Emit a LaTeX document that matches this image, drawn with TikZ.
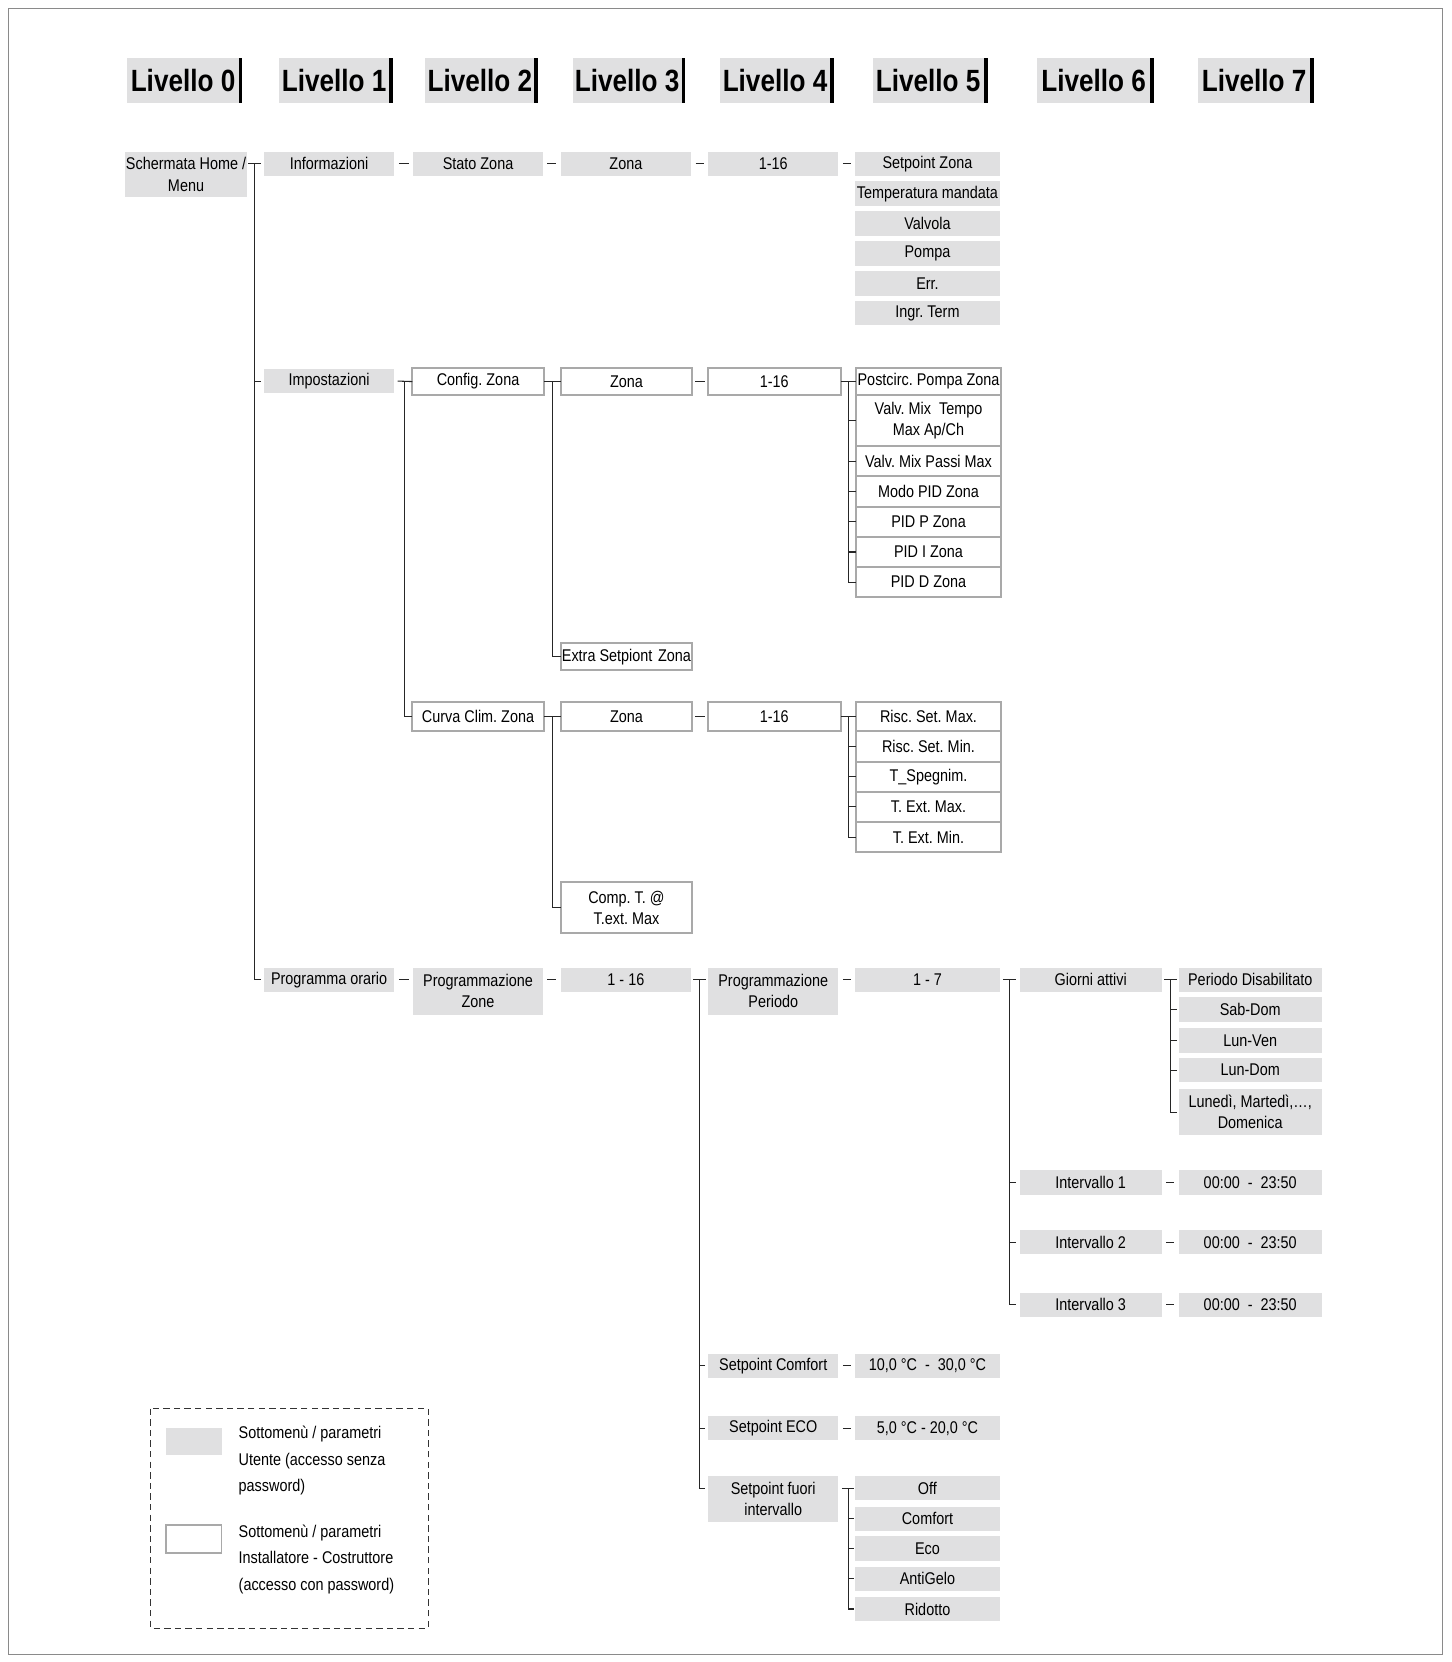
\documentclass[tikz,border=0pt]{standalone}
\usepackage{fontspec}
\setmainfont{Liberation Sans}[FakeStretch=0.85]
\usetikzlibrary{positioning,calc}

\definecolor{usergray}{HTML}{E0E0E1}
\definecolor{instgray}{HTML}{A9A9A9}
\definecolor{framegray}{HTML}{8A8A8A}

\newcommand\boxfont{\fontsize{16}{20}\selectfont}
\newcommand\headfont{\bfseries\fontsize{29}{34}\selectfont}
\newcommand\keyfont{\fontsize{16}{25}\selectfont}

\tikzset{
  user/.style={fill=usergray, inner sep=0pt, minimum height=23pt, align=center, font=\boxfont},
  inst/.style={draw=instgray, line width=1.8pt, fill=white, inner sep=0pt, outer sep=0pt,
    minimum height=26pt, align=center, font=\boxfont},
  head/.style={fill=usergray, inner sep=0pt, minimum height=42pt, font=\headfont},
  link/.style={line width=1pt, draw=black!85},
}

\begin{document}
\frenchspacing
\begin{tikzpicture}[x=1pt,y=-1pt]
  \useasboundingbox (0,0) rectangle (1369,1568);
  \draw[framegray, line width=1.4pt] (8,8) rectangle (1361,1561);

  % intestazioni livelli
  \foreach \n/\xl/\w in {0/120/105, 1/263/104, 2/401/103, 3/540/103, 4/679/104, 5/823/105, 6/978/107, 7/1130/106}{
    \node[head, minimum width=\w, anchor=west] (lv\n) at (\xl,76) {Livello \n};
    \draw[line width=3.5pt] ([xshift=1.5pt]lv\n.north east) -- ([xshift=1.5pt]lv\n.south east);
  }

  % livello 0 e 1
  \node[user, minimum width=115, minimum height=43] (home) at (175.5,164.5) {Schermata Home /\\Menu};
  \node[user, minimum width=123] (info) at (310.5,154.5) {Informazioni};
  \node[user, minimum width=123] (impo) at (310.5,359.5) {Impostazioni};
  \node[user, minimum width=123] (prog) at (310.5,924.5) {Programma orario};

  \coordinate (thome) at ($(home.east |- info)+(7,0)$);
  \draw[link] ($(home.east |- info)+(1,0)$) -- ($(info.west)+(-3,0)$);
  \draw[link] (thome) |- ($(prog.west)+(-3,0)$);
  \draw[link] (thome |- impo) -- ($(impo.west)+(-3,0)$);

  % informazioni
  \node[user, minimum width=122] (stato) at (451,154.5) {Stato Zona};
  \node[user, minimum width=123] (izona) at (590.5,154.5) {Zona};
  \node[user, minimum width=123] (inum) at (729.5,154.5) {1-16};
  \foreach \t [count=\k] in {Setpoint Zona, Temperatura mandata, Valvola, Pompa, Err., Ingr. Term}
    \node[user, minimum width=136] (inf\k) at (875,{154.5+28.2*(\k-1)}) {\t};
  \draw[link] ($(info.east)+(4,0)$) -- ($(stato.west)+(-4,0)$);
  \draw[link] ($(stato.east)+(4,0)$) -- ($(izona.west)+(-4,0)$);
  \draw[link] ($(izona.east)+(4,0)$) -- ($(inum.west)+(-4,0)$);
  \draw[link] ($(inum.east)+(4,0)$) -- ($(inf1.west)+(-4,0)$);

  % impostazioni - config. zona
  \node[inst, minimum width=124] (cfg) at (451,360) {Config. Zona};
  \node[inst, minimum width=124] (czona) at (591,360) {Zona};
  \node[inst, minimum width=125] (cnum) at (730.5,360) {1-16};
  \node[inst, minimum width=136, anchor=north] (post) at (876,347) {Postcirc. Pompa Zona};
  \node[inst, minimum width=136, minimum height=48, below=0pt of post] (tempo) {Valv. Mix~ Tempo\\Max Ap/Ch};
  \node[inst, minimum width=136, minimum height=28.5, below=0pt of tempo] (passi) {Valv. Mix Passi Max};
  \node[inst, minimum width=136, minimum height=28.5, below=0pt of passi] (modo) {Modo PID Zona};
  \node[inst, minimum width=136, minimum height=28.5, below=0pt of modo] (pidp) {PID P Zona};
  \node[inst, minimum width=136, minimum height=28.5, below=0pt of pidp] (pidi) {PID I Zona};
  \node[inst, minimum width=136, minimum height=28.5, below=0pt of pidi] (pidd) {PID D Zona};
  \node[inst, minimum width=124] (extra) at (591,619.5) {Extra Setpiont\,\,Zona};

  \coordinate (tcfg) at ($(cfg.east)!0.5!(czona.west)$);
  \draw[link] (cfg.east) -- (czona.west);
  \draw[link] (tcfg) |- (extra.west);
  \draw[link] ($(czona.east)+(3,0)$) -- ($(cnum.west)+(-3,0)$);
  \coordinate (tcnum) at ($(cnum.east)!0.5!(post.west)$);
  \draw[link] (cnum.east) -- (post.west);
  \draw[link] (tcnum) |- (pidd.west);
  \foreach \b in {tempo,passi,modo,pidp,pidi}
    \draw[link] (tcnum |- \b.west) -- (\b.west);

  % impostazioni - curva clim.
  \node[inst, minimum width=124, minimum height=27] (curva) at (451,676) {Curva Clim. Zona};
  \node[inst, minimum width=124, minimum height=27] (kzona) at (591,676) {Zona};
  \node[inst, minimum width=125, minimum height=27] (knum) at (730.5,676) {1-16};
  \node[inst, minimum width=136, minimum height=28, anchor=north] (rmax) at (876,662) {Risc. Set. Max.};
  \node[inst, minimum width=136, minimum height=28.5, below=0pt of rmax] (rmin) {Risc. Set. Min.};
  \node[inst, minimum width=136, minimum height=28.5, below=0pt of rmin] (tspe) {T\_Spegnim.};
  \node[inst, minimum width=136, minimum height=28.5, below=0pt of tspe] (tmax) {T. Ext. Max.};
  \node[inst, minimum width=136, minimum height=28.5, below=0pt of tmax] (tmin) {T. Ext. Min.};
  \node[inst, minimum width=124, minimum height=48] (comp) at (591,856.5) {Comp. T. @\\T.ext. Max};

  \coordinate (timpo) at ($(impo.east)+(9,0)$);
  \draw[link] ($(impo.east)+(3,0)$) -- (cfg.west);
  \draw[link] (timpo) |- (curva.west);
  \coordinate (tcur) at ($(curva.east)!0.5!(kzona.west)$);
  \draw[link] (curva.east) -- (kzona.west);
  \draw[link] (tcur) |- (comp.west);
  \draw[link] ($(kzona.east)+(3,0)$) -- ($(knum.west)+(-3,0)$);
  \coordinate (tknum) at ($(knum.east)!0.5!(rmax.west)$);
  \draw[link] (knum.east) -- (rmax.west);
  \draw[link] (tknum) |- (tmin.west);
  \foreach \b in {rmin,tspe,tmax}
    \draw[link] (tknum |- \b.west) -- (\b.west);

  % programma orario
  \node[user, minimum width=122, minimum height=44, anchor=north] (pz) at (451,913) {Programmazione\\Zone};
  \node[user, minimum width=123] (u16) at (590.5,924.5) {1 - 16};
  \node[user, minimum width=123, minimum height=44, anchor=north] (pp) at (729.5,913) {Programmazione\\Periodo};
  \node[user, minimum width=136] (u7) at (875,924.5) {1 - 7};
  \node[user, minimum width=134] (giorni) at (1029,924.5) {Giorni attivi};
  \node[user, minimum width=135] (pdis) at (1179.5,924.5) {Periodo Disabilitato};
  \node[user, minimum width=135] (sabdom) at (1179.5,952.5) {Sab-Dom};
  \node[user, minimum width=135] (lunven) at (1179.5,981.5) {Lun-Ven};
  \node[user, minimum width=135] (lundom) at (1179.5,1009.5) {Lun-Dom};
  \node[user, minimum width=135, minimum height=44, anchor=north] (lunmar) at (1179.5,1027) {Lunedì, Martedì,…,\\Domenica};
  \foreach \k/\y in {1/1115.5, 2/1172, 3/1231}{
    \node[user, minimum width=134] (int\k) at (1029,\y) {Intervallo \k};
    \node[user, minimum width=135] (time\k) at (1179.5,\y) {00:00\ \ -\ \ 23:50};
    \draw[link] ($(int\k.east)+(4,0)$) -- ($(time\k.west)+(-4,0)$);
  }
  \node[user, minimum width=123] (scomf) at (729.5,1288.5) {Setpoint Comfort};
  \node[user, minimum width=136] (vcomf) at (875,1288.5) {10,0 °C\ \ -\ \ 30,0 °C};
  \node[user, minimum width=123] (seco) at (729.5,1347.5) {Setpoint ECO};
  \node[user, minimum width=136] (veco) at (875,1347.5) {5,0 °C - 20,0 °C};
  \node[user, minimum width=123, minimum height=44, anchor=north] (sfuori) at (729.5,1392) {Setpoint fuori\\intervallo};
  \foreach \t/\nm/\y in {Off/off/1404, Comfort/comfort/1433, Eco/eco/1461, AntiGelo/antigelo/1489.5, Ridotto/ridotto/1518}
    \node[user, minimum width=136] (\nm) at (875,\y) {\t};

  \draw[link] ($(prog.east)+(4,0)$) -- ($(prog.east -| pz.west)+(-4,0)$);
  \draw[link] ($(u16.west -| pz.east)+(4,0)$) -- ($(u16.west)+(-4,0)$);
  \coordinate (tu16) at ($(u16.east)!0.5!(u16.east -| pp.west)$);
  \draw[link] ($(u16.east)+(2,0)$) -- ($(u16.east -| pp.west)+(-2,0)$);
  \draw[link] (tu16) |- ($(sfuori.north west)+(-3,12)$);
  \foreach \b in {scomf,seco}
    \draw[link] (tu16 |- \b.west) -- ($(\b.west)+(-3,0)$);
  \draw[link] ($(u7.west -| pp.east)+(4,0)$) -- ($(u7.west)+(-4,0)$);
  \coordinate (tu7) at ($(u7.east)!0.5!(giorni.west)$);
  \draw[link] ($(u7.east)+(3,0)$) -- ($(giorni.west)+(-3,0)$);
  \draw[link] (tu7) |- ($(int3.west)+(-3,0)$);
  \foreach \b in {int1,int2}
    \draw[link] (tu7 |- \b.west) -- ($(\b.west)+(-3,0)$);
  \coordinate (tgio) at ($(giorni.east)!0.5!(pdis.west)$);
  \draw[link] ($(giorni.east)+(2,0)$) -- ($(pdis.west)+(-1,0)$);
  \draw[link] (tgio) |- ($(lunmar.west)+(-1,0)$);
  \foreach \b in {sabdom,lunven,lundom}
    \draw[link] (tgio |- \b.west) -- ($(\b.west)+(-1,0)$);
  \draw[link] ($(scomf.east)+(4,0)$) -- ($(vcomf.west)+(-4,0)$);
  \draw[link] ($(seco.east)+(4,0)$) -- ($(veco.west)+(-4,0)$);
  \coordinate (tsf) at ($(off.west)+(-6,0)$);
  \draw[link] ($(sfuori.east |- off)+(3,0)$) -- ($(off.west)+(-1,0)$);
  \draw[link] (tsf) |- ($(ridotto.west)+(-1,0)$);
  \foreach \b in {comfort,eco,antigelo}
    \draw[link] (tsf |- \b.west) -- ($(\b.west)+(-1,0)$);

  % legenda
  \draw[black!80, line width=0.9pt, dash pattern=on 6pt off 4pt] (142,1329) rectangle (404,1536);
  \node[user, minimum width=52, minimum height=26] (keyuser) at (183,1360) {};
  \node[inst, minimum width=52, minimum height=26] (keyinst) at (183,1452) {};
  \node[anchor=west, align=left, inner sep=0pt, font=\keyfont] (keyusertxt) at (225,1378)
    {Sottomenù / parametri\\Utente (accesso senza\\password)};
  \node[anchor=west, align=left, inner sep=0pt, font=\keyfont] (keyinsttxt) at (225,1471)
    {Sottomenù / parametri\\Installatore - Costruttore\\(accesso con password)};
\end{tikzpicture}
\end{document}
